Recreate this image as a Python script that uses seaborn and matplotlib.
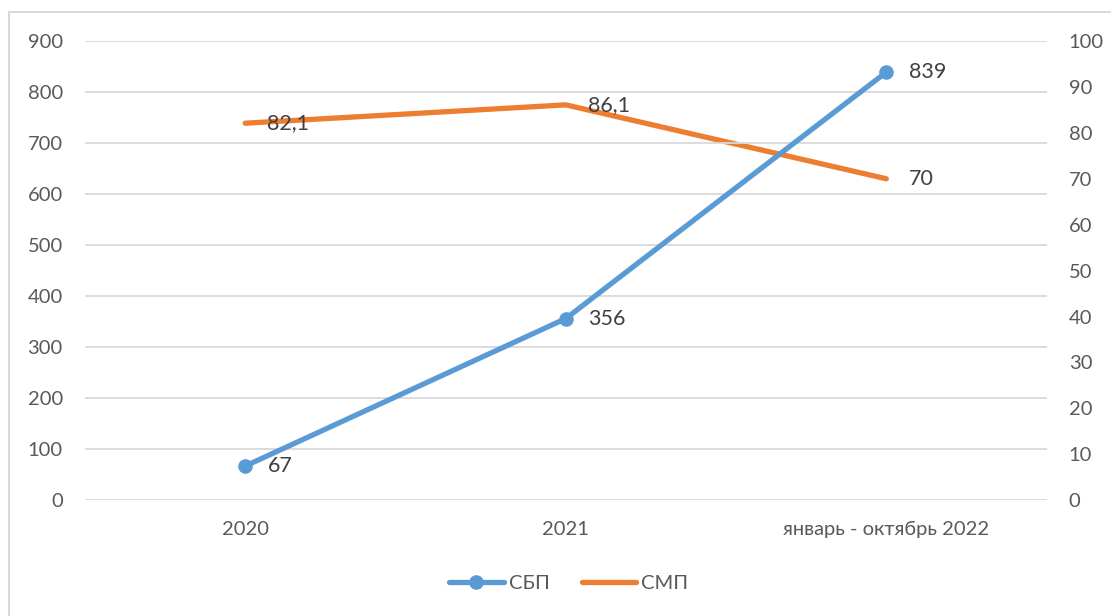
import pandas as pd
import matplotlib.pyplot as plt
import seaborn as sns
from matplotlib.patches import Rectangle
from matplotlib.lines import Line2D

# ==========================
# Data
# ==========================

periods = ["2020", "2021", "январь - октябрь 2022"]
sbp = [67, 356, 839]
smp = [82.1, 86.1, 70]

df = pd.DataFrame({"period": periods, "СБП": sbp, "СМП": smp})

# ==========================
# Style
# ==========================

sns.set_style("white")
plt.rcParams["font.family"] = ["Lato", "DejaVu Sans"]

blue = "#5B9BD5"
orange = "#ED7D31"
grid = "#D9D9D9"
text = "#595959"

fig = plt.figure(figsize=(11.11, 6.16), dpi=100)
ax = fig.add_axes([0.0765, 0.188, 0.8655, 0.7454])
ax2 = ax.twinx()

# outer chart frame
fig.patches.append(Rectangle((0.008, -0.1), 1.2, 1.0805, transform=fig.transFigure,
                             fill=False, edgecolor=grid, linewidth=1.5))

# ==========================
# Lines
# ==========================

sns.lineplot(data=df, x="period", y="СМП", ax=ax2, color=orange, linewidth=3.8,
             legend=False, solid_capstyle="round", sort=False)
sns.lineplot(data=df, x="period", y="СБП", ax=ax, color=blue, linewidth=3.8,
             marker="o", markersize=10.5, markeredgewidth=0, legend=False,
             solid_capstyle="round", sort=False)

# blue line above orange
ax.set_zorder(ax2.get_zorder() + 1)
ax.patch.set_visible(False)

# ==========================
# Axes
# ==========================

ax.set_ylim(0, 900)
ax.set_yticks(range(0, 901, 100))
ax2.set_ylim(0, 100)
ax2.set_yticks(range(0, 101, 10))
ax.set_xlim(-0.5, 2.5)

ax.grid(axis="y", color=grid, linewidth=1.3)
ax.grid(axis="x", visible=False)
ax2.grid(False)

for a in (ax, ax2):
    for s in a.spines.values():
        s.set_visible(False)
    a.set_xlabel("")
    a.set_ylabel("")

ax.tick_params(axis="y", length=0, pad=16, labelsize=14.5, labelcolor=text)
ax.tick_params(axis="x", length=0, pad=15, labelsize=14.5, labelcolor=text)
ax2.tick_params(axis="y", length=0, pad=16, labelsize=14.5, labelcolor=text)

# ==========================
# Data labels
# ==========================

for i, v in enumerate(sbp):
    ax.annotate(str(v), (i, v), xytext=(16, 0), textcoords="offset points",
                ha="left", va="center", fontsize=15.5, color="#404040")

for i, v in enumerate(smp):
    lbl = f"{v:g}".replace(".", ",")
    ax2.annotate(lbl, (i, v), xytext=(16, 0), textcoords="offset points",
                 ha="left", va="center", fontsize=15.5, color="#404040")

# ==========================
# Legend
# ==========================

handles = [
    Line2D([], [], color=blue, linewidth=3.8, marker="o", markersize=10.5,
           markeredgewidth=0, solid_capstyle="round"),
    Line2D([], [], color=orange, linewidth=3.8, solid_capstyle="round"),
]
fig.legend(handles, ["СБП", "СМП"], loc="center", bbox_to_anchor=(0.512, 0.053),
           ncol=2, frameon=False, fontsize=14.5, labelcolor=text,
           handlelength=2.7, handletextpad=0.25, columnspacing=1.6)

fig.savefig("out.png", dpi=100)
